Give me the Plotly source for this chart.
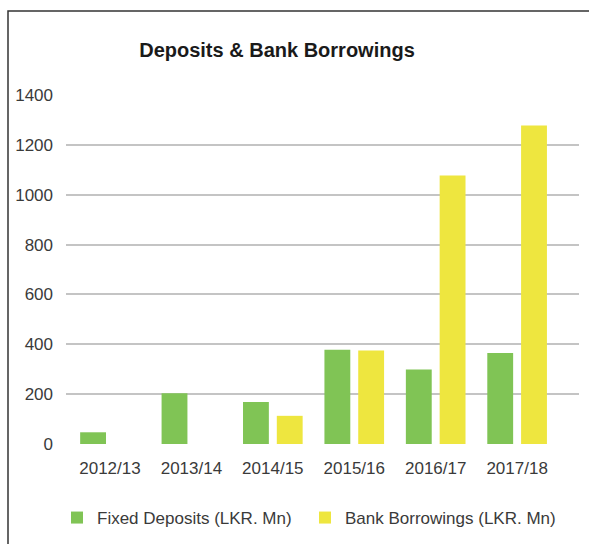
import plotly.graph_objects as go

years = ["2012/13", "2013/14", "2014/15", "2015/16", "2016/17", "2017/18"]
fixed_deposits = [47, 204, 168, 378, 299, 365]
bank_borrowings = [None, None, 113, 375, 1077, 1278]
y_ticks = [0, 200, 400, 600, 800, 1000, 1200, 1400]

W, H = 589, 544
L, R, T, B = 66, 10, 95, 100
pw, ph = W - L - R, H - T - B

def px_to_paper_x(px):
    return (px - L) / pw

def px_to_paper_y(py):
    return (H - B - py) / ph

fig = go.Figure()
fig.add_trace(go.Bar(x=years, y=fixed_deposits, name="Fixed Deposits (LKR. Mn)",
                     marker=dict(color="#80C455", line=dict(width=0)),
                     legend="legend"))
fig.add_trace(go.Bar(x=years, y=bank_borrowings, name="Bank Borrowings (LKR. Mn)",
                     marker=dict(color="#EEE63F", line=dict(width=0)),
                     legend="legend2"))

font_family = "Liberation Sans, Arial, sans-serif"
legend_common = dict(orientation="h", xanchor="left",
                     y=px_to_paper_y(518), yanchor="middle",
                     font=dict(family=font_family, size=17, color="#3a3a3a"),
                     bgcolor="rgba(0,0,0,0)")

fig.update_layout(
    width=W, height=H,
    margin=dict(l=L, r=R, t=T, b=B, autoexpand=False),
    paper_bgcolor="white", plot_bgcolor="white",
    barmode="group", bargap=0.17, bargroupgap=0.235,
    title=dict(text="<b>Deposits & Bank Borrowings</b>", x=277 / W, xanchor="center",
               y=1 - 50 / H, yanchor="middle",
               font=dict(family=font_family, size=20, color="#1a1a1a")),
    font=dict(family=font_family, size=17, color="#3a3a3a"),
    showlegend=True,
    legend=dict(x=px_to_paper_x(57), **legend_common),
    legend2=dict(x=px_to_paper_x(305), **legend_common),
    xaxis=dict(type="category", range=[-0.54, 5.76], showgrid=False,
               showline=False, zeroline=False, ticks="",
               ticklabelstandoff=12,
               tickfont=dict(size=17, color="#3a3a3a")),
    yaxis=dict(range=[0, 1400], tickvals=y_ticks, showgrid=True,
               gridcolor="#c4c4c4", gridwidth=1.5, zeroline=False,
               showline=False, ticks="", ticklabelstandoff=12,
               tickfont=dict(size=17, color="#3a3a3a")),
)

fig.add_shape(type="rect", xref="paper", yref="paper",
              x0=px_to_paper_x(8), x1=px_to_paper_x(620),
              y0=px_to_paper_y(580), y1=px_to_paper_y(11),
              line=dict(color="#333333", width=1.5), fillcolor="rgba(0,0,0,0)",
              layer="below")

fig.write_html("out.html")
